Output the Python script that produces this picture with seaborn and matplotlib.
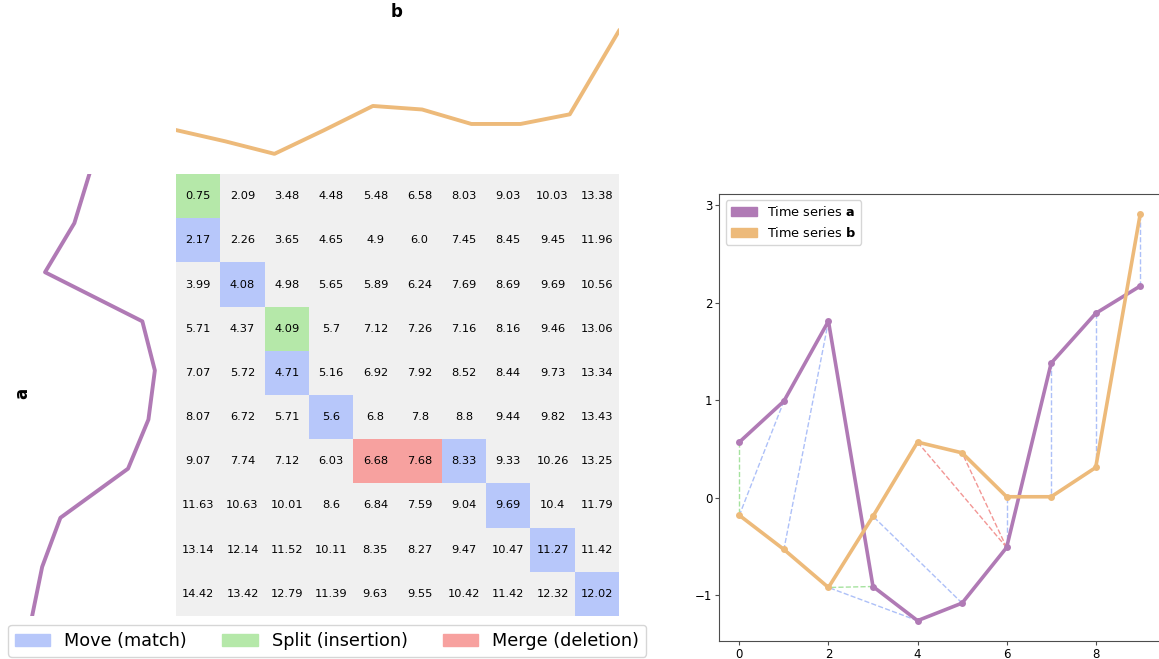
import numpy as np
import matplotlib
matplotlib.use("Agg")
import matplotlib.pyplot as plt
import matplotlib.patches as mpatches
from matplotlib.colors import ListedColormap
import seaborn as sns

# ---------------- data ----------------
idx = list(range(10))
series_a = [0.57, 0.99, 1.81, -0.91, -1.26, -1.08, -0.51, 1.38, 1.89, 2.17]
series_b = [-0.18, -0.53, -0.92, -0.19, 0.57, 0.46, 0.01, 0.01, 0.31, 2.91]

cost = [
    [0.75, 2.09, 3.48, 4.48, 5.48, 6.58, 8.03, 9.03, 10.03, 13.38],
    [2.17, 2.26, 3.65, 4.65, 4.9, 6.0, 7.45, 8.45, 9.45, 11.96],
    [3.99, 4.08, 4.98, 5.65, 5.89, 6.24, 7.69, 8.69, 9.69, 10.56],
    [5.71, 4.37, 4.09, 5.7, 7.12, 7.26, 7.16, 8.16, 9.46, 13.06],
    [7.07, 5.72, 4.71, 5.16, 6.92, 7.92, 8.52, 8.44, 9.73, 13.34],
    [8.07, 6.72, 5.71, 5.6, 6.8, 7.8, 8.8, 9.44, 9.82, 13.43],
    [9.07, 7.74, 7.12, 6.03, 6.68, 7.68, 8.33, 9.33, 10.26, 13.25],
    [11.63, 10.63, 10.01, 8.6, 6.84, 7.59, 9.04, 9.69, 10.4, 11.79],
    [13.14, 12.14, 11.52, 10.11, 8.35, 8.27, 9.47, 10.47, 11.27, 11.42],
    [14.42, 13.42, 12.79, 11.39, 9.63, 9.55, 10.42, 11.42, 12.32, 12.02],
]

# warping path: (index in a, index in b, step type)
path_a = [0, 1, 2, 3, 4, 5, 6, 6, 6, 7, 8, 9]
path_b = [0, 0, 1, 2, 2, 3, 4, 5, 6, 7, 8, 9]
path_type = ["split", "move", "move", "split", "move", "move",
             "merge", "merge", "move", "move", "move", "move"]

step_labels = ["Move (match)", "Split (insertion)", "Merge (deletion)"]

# ---------------- styles ----------------
col_a = "#b07ab5"
col_b = "#edba7a"
col_bg = "#f0f0f0"
step_fill = {"move": "#b7c7fa", "split": "#b5e8a9", "merge": "#f7a19f"}
step_line = {"move": "#9fb5f7", "split": "#96dd8e", "merge": "#f08482"}
step_keys = ["move", "split", "merge"]

W, H = 1159, 659
fig = plt.figure(figsize=(W / 100, H / 100), dpi=100)

def fx(px):
    return px / W

def fy(py):
    return 1 - py / H

# heatmap axes
hm_l, hm_r, hm_t, hm_b = 176, 619, 174, 616
ax_hm = fig.add_axes([fx(hm_l), fy(hm_b), fx(hm_r - hm_l), (hm_b - hm_t) / H])

cost_arr = np.array(cost)
cat = np.zeros_like(cost_arr, dtype=int)
for i, j, t in zip(path_a, path_b, path_type):
    cat[i, j] = step_keys.index(t) + 1
labels = np.array([[str(v) for v in row] for row in cost])
cmap = ListedColormap([col_bg] + [step_fill[k] for k in step_keys])
sns.heatmap(cat, ax=ax_hm, cmap=cmap, vmin=-0.5, vmax=3.5, cbar=False,
            annot=labels, fmt="", annot_kws={"fontsize": 8.2, "color": "black"},
            xticklabels=False, yticklabels=False, linewidths=0)
ax_hm.tick_params(length=0)

# top series b
ax_top = fig.add_axes([fx(hm_l), fy(160), fx(hm_r - hm_l), (160 - 24.6) / H])
sns.lineplot(x=idx, y=series_b, ax=ax_top, color=col_b, lw=2.8)
ax_top.set_xlim(0, 9)
ax_top.axis("off")

# left series a (vertical)
ax_left = fig.add_axes([fx(26), fy(hm_b), fx(135), (hm_b - hm_t) / H])
sns.lineplot(x=series_a, y=idx, orient="y", sort=False, ax=ax_left, color=col_a, lw=2.8)
ax_left.set_ylim(9, 0)
ax_left.invert_xaxis()
ax_left.axis("off")

fig.text(fx(397), fy(12), "b", fontsize=12, fontweight="bold", ha="center", va="center")
fig.text(fx(22), fy(393), "a", fontsize=12, fontweight="bold", ha="center", va="center", rotation=90)

# right plot
ax_r = fig.add_axes([fx(719.3), fy(641), fx(1160.3 - 719.3), (641 - 193.5) / H])
for ia, ib, t in zip(path_a, path_b, path_type):
    ax_r.plot([ia, ib], [series_a[ia], series_b[ib]], ls="--", lw=1,
              color=step_line[t], alpha=0.85, zorder=1)
sns.lineplot(x=idx, y=series_a, ax=ax_r, color=col_a, lw=2.6, marker="o",
             markersize=5, markeredgewidth=0, zorder=2)
sns.lineplot(x=idx, y=series_b, ax=ax_r, color=col_b, lw=2.6, marker="o",
             markersize=5, markeredgewidth=0, zorder=2)
ax_r.tick_params(labelsize=8.5, length=3, pad=2, color="0.3")
ax_r.set_xticks([0, 2, 4, 6, 8])
ax_r.set_yticks([-1, 0, 1, 2, 3])
for sp in ax_r.spines.values():
    sp.set_color("0.3")
handles_r = [mpatches.Patch(color=col_a, label=r"Time series $\bf{a}$"),
             mpatches.Patch(color=col_b, label=r"Time series $\bf{b}$")]
ax_r.legend(handles=handles_r, loc="upper left", fontsize=9.3)

# bottom legend
handles_b = [mpatches.Patch(color=step_fill[k], label=lab) for k, lab in zip(step_keys, step_labels)]
fig.legend(handles=handles_b, loc="lower left", bbox_to_anchor=(fx(8), fy(657)),
           ncol=3, fontsize=12.7, borderaxespad=0, frameon=True)

fig.savefig("out.png", dpi=100)
